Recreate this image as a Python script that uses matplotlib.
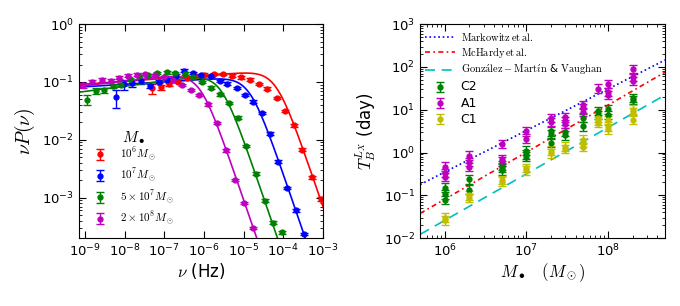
import numpy as np
import matplotlib
matplotlib.use("Agg")
import matplotlib.pyplot as plt
from matplotlib.mathtext import MathTextParser

plt.rcParams['mathtext.fontset'] = 'cm'
plt.rcParams['font.family'] = 'DejaVu Sans'
plt.rcParams['axes.unicode_minus'] = False
plt.rcParams['xtick.direction'] = 'in'
plt.rcParams['ytick.direction'] = 'in'
plt.rcParams['xtick.top'] = True
plt.rcParams['ytick.right'] = True

# ---- left panel: nu P(nu) for four black hole masses ----
red_nu = [10**v for v in [-7.32, -7.09, -6.88, -6.65, -6.44, -6.23, -6.00, -5.75, -5.53, -5.30,
                          -5.07, -4.84, -4.62, -4.40, -4.17, -3.96, -3.74, -3.52, -3.27, -3.06]]
red_p = [0.078, 0.081, 0.092, 0.102, 0.116, 0.126, 0.134, 0.138, 0.138, 0.129,
         0.121, 0.110, 0.092, 0.077, 0.053, 0.0314, 0.0178, 0.0068, 0.00225, 0.00095]
red_err = [0.2, 0.1, 0.06, 0.05, 0.05, 0.05, 0.05, 0.05, 0.05, 0.05,
           0.05, 0.05, 0.05, 0.05, 0.05, 0.05, 0.05, 0.05, 0.05, 0.08]

blue_nu = [10**v for v in [-8.21, -8.02, -7.81, -7.60, -7.36, -7.13, -6.93, -6.71, -6.50, -6.29, -6.08,
                           -5.83, -5.60, -5.41, -5.18, -4.97, -4.76, -4.55, -4.34, -4.13, -3.92, -3.69, -3.48]]
blue_p = [0.054, 0.092, 0.096, 0.103, 0.084, 0.102, 0.110, 0.129, 0.158, 0.142, 0.132,
          0.126, 0.105, 0.094, 0.079, 0.060, 0.046, 0.029, 0.0128, 0.0042, 0.00148, 0.00060, 0.000236]
blue_err = [0.33, 0.2, 0.15, 0.1, 0.08, 0.06, 0.05, 0.05, 0.05, 0.05, 0.05,
            0.05, 0.05, 0.05, 0.05, 0.05, 0.05, 0.05, 0.05, 0.05, 0.05, 0.05, 0.05]

green_nu = [10**v for v in [-8.94, -8.72, -8.51, -8.30, -8.09, -7.87, -7.64, -7.41, -7.19, -6.94, -6.72, -6.48,
                            -6.27, -6.06, -5.83, -5.60, -5.37, -5.15, -4.93, -4.70, -4.47, -4.25, -4.03]]
green_p = [0.0495, 0.070, 0.072, 0.084, 0.090, 0.111, 0.126, 0.131, 0.142, 0.146, 0.144, 0.140,
           0.123, 0.100, 0.080, 0.061, 0.0436, 0.0242, 0.0079, 0.0026, 0.00089, 0.00037, 0.00025]
green_err = [0.2, 0.12, 0.1, 0.08, 0.07, 0.06, 0.05, 0.05, 0.05, 0.05, 0.05, 0.05,
             0.05, 0.05, 0.05, 0.05, 0.05, 0.05, 0.05, 0.05, 0.05, 0.05, 0.05]

mag_nu = [10**v for v in [-9.05, -8.82, -8.58, -8.35, -8.14, -7.91, -7.68, -7.49, -7.24, -7.00,
                          -6.78, -6.56, -6.34, -6.12, -5.89, -5.68, -5.44, -5.22, -4.99, -4.76]]
mag_p = [0.087, 0.102, 0.108, 0.106, 0.119, 0.129, 0.134, 0.138, 0.132, 0.122,
         0.107, 0.088, 0.073, 0.060, 0.041, 0.0195, 0.0066, 0.00202, 0.00081, 0.00030]
mag_err = [0.1, 0.08, 0.07, 0.06, 0.05, 0.05, 0.05, 0.05, 0.05, 0.05,
           0.05, 0.05, 0.05, 0.05, 0.05, 0.05, 0.05, 0.05, 0.05, 0.05]

# bending power-law fits: norm, break frequency, low-frequency slope (in nu P)
fit_norm = [0.16, 0.125, 0.14, 0.145]
fit_break = [10**-4.18, 10**-4.845, 10**-5.57, 10**-6.10]
fit_slope_lo = [0.05, 0.043, 0.09, 0.077]
fit_slope_hi = -2.0

mass_labels = [r'$10^6M_\odot$', r'$10^7M_\odot$', r'$5\times10^7M_\odot$', r'$2\times10^8M_\odot$']
left_colors = ['r', 'b', 'g', 'm']

# ---- right panel: break time scale vs mass ----
masses = [1e6, 2e6, 5e6, 1e7, 2e7, 3e7, 5e7, 7.5e7, 1e8, 2e8]
a1_T = [[0.47, 0.33, 0.27], [0.85, 0.6, 0.46], [1.6, 0.7, 0.62], [3.1, 2.1], [6.4, 5.2],
        [6.6, 5.4, 4.6], [13, 10.7, 8.9], [31], [40, 26, 22], [88, 58, 47]]
c2_T = [[0.15, 0.105, 0.077], [0.235, 0.135], [0.49, 0.43, 0.38], [1.1, 0.9, 0.8], [3.1, 2.7, 1.65],
        [3.0, 2.5], [6.4, 4.1], [9.3, 7.5], [10.2, 7.6], [19, 17]]
c1_T = [[0.030, 0.026], [0.10, 0.087], [0.23, 0.21], [0.43, 0.38], [1.1, 0.96],
        [1.38, 1.22], [2.0, 1.65, 1.35], [6.5, 5.5, 4.9], [5.8, 4.1, 3.5], [10.0, 8.9, 5.9]]
err_dex = 0.1


def first_ok(options):
    parser = MathTextParser('agg')
    for s in options:
        try:
            parser.parse(s, dpi=100)
            return s
        except Exception:
            pass
    return options[-1]


gonz = first_ok([r'$\mathrm{Gonz\acute{a}lez-Mart\acute{\imath}n}\ \&\ \mathrm{Vaughan}$',
                 r'$\mathrm{Gonz\acute{a}lez}-\mathrm{Mart\acute{\imath}n}$ & $\mathrm{Vaughan}$',
                 r'$\mathrm{Gonz\acute{a}lez}-\mathrm{Mart\acute{i}n}$ & $\mathrm{Vaughan}$',
                 'González − Martín & Vaughan'])

# scaling relations: T at 1e6 Msun (days), slope
rel_names = [r'$\mathrm{Markowitz\,et\,al.}$', r'$\mathrm{McHardy\,et\,al.}$', gonz]
rel_T6 = [0.35, 0.081, 0.026]
rel_slope = [0.97, 1.10, 1.085]
rel_styles = [('b', ':'), ('r', (0, (3, 2, 1, 2))), ('c', (0, (6, 4)))]

fig = plt.figure(figsize=(6.8, 3.06), dpi=100)
ax1 = fig.add_axes([0.116, 0.222, 0.359, 0.699])
ax2 = fig.add_axes([0.618, 0.222, 0.360, 0.699])

nu_grid = np.logspace(-9.3, -2.9, 400)
series = [(red_nu, red_p, red_err), (blue_nu, blue_p, blue_err),
          (green_nu, green_p, green_err), (mag_nu, mag_p, mag_err)]
for i, (nu, p, e) in enumerate(series):
    p = np.array(p)
    ax1.errorbar(nu, p, yerr=p * np.array(e), fmt='o', color=left_colors[i], ms=3.5,
                 mec=left_colors[i], capsize=3, elinewidth=1, label=mass_labels[i])
    x = nu_grid / fit_break[i]
    model = fit_norm[i] * x**fit_slope_lo[i] / (1 + x**(fit_slope_lo[i] - fit_slope_hi))
    ax1.plot(nu_grid, model, color=left_colors[i], lw=1.2)

ax1.set_xscale('log')
ax1.set_yscale('log')
ax1.set_xlim(7e-10, 1e-3)
ax1.set_ylim(2e-4, 1)
ax1.set_xticks([1e-9, 1e-8, 1e-7, 1e-6, 1e-5, 1e-4, 1e-3])
ax1.set_xlabel(r'$\nu$ (Hz)', fontsize=12, labelpad=1)
ax1.set_ylabel(r'$\nu P(\nu)$', fontsize=14)
ax1.tick_params(labelsize=9.5)
ax1.legend(loc='lower left', frameon=False, fontsize=8, bbox_to_anchor=(0.041, 0.05),
           borderpad=0, borderaxespad=0, labelspacing=0.4, handlelength=2,
           handletextpad=0.8)
ax1.text(0.176, 0.472, r'$M_\bullet$', transform=ax1.transAxes, va='center', fontsize=11)

Mgrid = np.logspace(np.log10(5e5), np.log10(5e8), 50)
for name, t6, s, (c, ls) in zip(rel_names, rel_T6, rel_slope, rel_styles):
    ax2.plot(Mgrid, t6 * (Mgrid / 1e6)**s, color=c, ls=ls, lw=1.2, label=name)

for vals, c, lab in [(c2_T, 'g', 'C2'), (a1_T, 'm', 'A1'), (c1_T, 'y', 'C1')]:
    mx = [m for m, v in zip(masses, vals) for _ in v]
    ty = np.array([t for v in vals for t in v])
    lo = ty * (1 - 10**-err_dex)
    hi = ty * (10**err_dex - 1)
    ax2.errorbar(mx, ty, yerr=[lo, hi], fmt='o', color=c, mec=c, ms=3.5, capsize=3,
                 elinewidth=1, ecolor=c, label=lab)

ax2.set_xscale('log')
ax2.set_yscale('log')
ax2.set_xlim(5e5, 5e8)
ax2.set_ylim(1e-2, 1e3)
ax2.set_xlabel(r'$M_\bullet\quad(M_\odot)$', fontsize=12, labelpad=1)
ax2.set_ylabel(r'$T_B^{L_X}$ (day)', fontsize=12)
ax2.tick_params(labelsize=9.5)
h, l = ax2.get_legend_handles_labels()
leg2 = ax2.legend(h, l, loc='upper left', frameon=False, fontsize=7.5, labelspacing=0.3,
                  handlelength=2.9, handletextpad=0.5, borderpad=0, borderaxespad=0,
                  handleheight=0.6, bbox_to_anchor=(0.02, 0.97))
for t in leg2.get_texts()[3:]:
    t.set_fontsize(9)

for ax in (ax1, ax2):
    ax.tick_params(which='major', length=5)
    ax.tick_params(which='minor', length=2.5)

fig.savefig('out.png', dpi=100)
